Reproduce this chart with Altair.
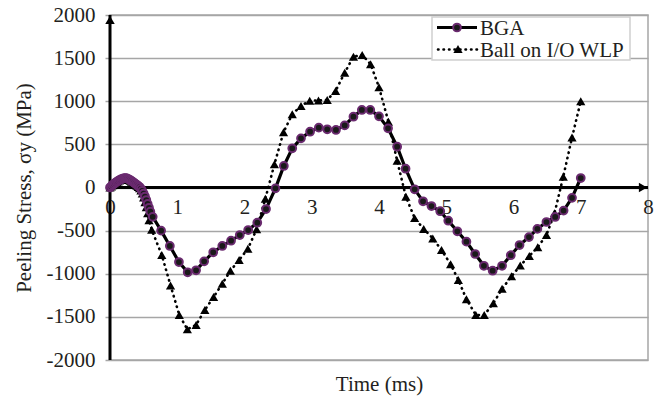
import altair as alt
import pandas as pd

# ---------------- data ----------------
bga_t = [0, 0.02, 0.04, 0.06, 0.08, 0.10, 0.12, 0.14, 0.16, 0.18, 0.20, 0.22, 0.24, 0.26,
         0.28, 0.30, 0.32, 0.34, 0.36, 0.38, 0.40, 0.42, 0.44, 0.46, 0.48, 0.50, 0.52,
         0.54, 0.56, 0.58, 0.60,
         0.635, 0.76, 0.89, 1.025, 1.155, 1.28, 1.40, 1.535, 1.67, 1.80, 1.93, 2.055, 2.19,
         2.32, 2.46, 2.585, 2.71, 2.84, 2.975, 3.105, 3.23, 3.36, 3.49, 3.62, 3.745, 3.87,
         4.0, 4.135, 4.27, 4.395, 4.53, 4.655, 4.78, 4.91, 5.03, 5.165, 5.3, 5.43, 5.56,
         5.69, 5.83, 5.96, 6.09, 6.23, 6.355, 6.49, 6.62, 6.745, 6.87, 7.0]
bga_v = [0, 15, 30, 43, 55, 66, 76, 85, 93, 100, 105, 108, 108, 103,
         95, 86, 76, 65, 53, 42, 30, 18, 5, -15, -40, -70, -105,
         -145, -190, -235, -280,
         -340, -500, -678, -864, -983, -960, -856, -751, -678, -617, -551, -493, -408,
         -250, -10, 250, 454, 570, 647, 694, 675, 667, 720, 821, 899, 899,
         825, 686, 473, 218, -21, -160, -215, -275, -385, -508, -628, -771, -908,
         -965, -908, -785, -667, -575, -480, -400, -342, -268, -120, 110]

wlp_t = [0, 0.02, 0.04, 0.06, 0.08, 0.10, 0.12, 0.14, 0.16, 0.18, 0.20, 0.22, 0.24, 0.26,
         0.28, 0.30, 0.32, 0.34, 0.36, 0.38, 0.40, 0.42, 0.44, 0.46, 0.48, 0.50, 0.52,
         0.54, 0.56, 0.58,
         0.62, 0.77, 0.90, 1.03, 1.15, 1.28, 1.41, 1.54, 1.67, 1.79, 1.92, 2.05, 2.18,
         2.31, 2.445, 2.58, 2.71, 2.84, 2.97, 3.10, 3.23, 3.355, 3.49, 3.62, 3.75, 3.875,
         4.0, 4.14, 4.27, 4.40, 4.53, 4.665, 4.80, 4.93, 5.065, 5.18, 5.30, 5.44, 5.565,
         5.70, 5.83, 5.97, 6.10, 6.235, 6.36, 6.49, 6.61, 6.74, 6.87, 7.0]
wlp_v = [0, 12, 25, 38, 50, 60, 70, 80, 88, 95, 100, 102, 100, 95,
         88, 78, 68, 57, 45, 33, 20, 5, -10, -35, -70, -115, -170,
         -230, -300, -380,
         -490, -783, -1135, -1478, -1645, -1594, -1420, -1270, -1115, -966, -840, -711, -485,
         -130, 270, 640, 850, 945, 1006, 1010, 1015, 1120, 1331, 1517, 1536, 1430,
         1162, 763, 309, -107, -355, -480, -590, -725, -890, -1072, -1295, -1478, -1478,
         -1343, -1175, -1030, -905, -795, -692, -551, -299, 125, 580, 1000]

series_names = ["BGA", "Ball on I/O WLP"]
x_ticks = [0, 1, 2, 3, 4, 5, 6, 7, 8]
y_ticks = [-2000, -1500, -1000, -500, 0, 500, 1000, 1500, 2000]
x_title = "Time (ms)"
y_title = "Peeling Stress, σy (MPa)"

# ---------------- styling ----------------
FONT = "Liberation Serif"
TXT = "#231f20"
GRID = "#a6a6a6"
PURPLE = "#6a2a6f"
W, H = 538, 345

bga = pd.DataFrame({"t": bga_t, "v": bga_v})
wlp = pd.DataFrame({"t": wlp_t, "v": wlp_v})

xs = alt.Scale(domain=[x_ticks[0], x_ticks[-1]], nice=False, zero=False)
ys = alt.Scale(domain=[y_ticks[0], y_ticks[-1]], nice=False, zero=False)

x_axis = alt.Axis(values=x_ticks, offset=-H / 2, domain=False, ticks=False, grid=False,
                  labelPadding=9, labelFont=FONT, labelFontSize=21, labelColor=TXT,
                  labelFlush=False, labelOverlap=False, labelExpr="datum.value + ''",
                  title=x_title, titleFont=FONT, titleFontSize=21, titleFontWeight="normal",
                  titleColor=TXT, titleY=H / 2 + 30, titleBaseline="alphabetic")
y_axis = alt.Axis(values=y_ticks, domain=False, tickColor=GRID, tickSize=5, tickWidth=1.5,
                  grid=True, gridColor=GRID, gridWidth=1.5,
                  labelPadding=10, labelFont=FONT, labelFontSize=21, labelColor=TXT,
                  labelFlush=False, labelOverlap=False, labelExpr="datum.value + ''",
                  title=y_title, titleFont=FONT, titleFontSize=21, titleFontWeight="normal",
                  titleColor=TXT, titleX=-86, titleY=H / 2, titleAngle=-90,
                  titleAlign="center", titleBaseline="middle")

X = alt.X("t:Q", scale=xs, axis=x_axis)
Y = alt.Y("v:Q", scale=ys, axis=y_axis)

# black axis lines through the origin
hline = alt.Chart(pd.DataFrame({"t": [x_ticks[0]], "t2": [x_ticks[-1]], "v": [0]})).mark_rule(
    color="black", strokeWidth=3).encode(x=X, x2="t2:Q", y=Y)
vline = alt.Chart(pd.DataFrame({"t": [0], "v": [y_ticks[0]], "v2": [y_ticks[-1]]})).mark_rule(
    color="black", strokeWidth=3).encode(x=X, y=Y, y2="v2:Q")
arrow_up = alt.Chart(pd.DataFrame({"t": [0], "v": [y_ticks[-1]]})).mark_point(
    shape="triangle-up", filled=True, color="black", size=90, opacity=1, yOffset=5).encode(x=X, y=Y)
arrow_right = alt.Chart(pd.DataFrame({"t": [x_ticks[-1]], "v": [0]})).mark_point(
    shape="triangle-right", filled=True, color="black", size=90, opacity=1, xOffset=-5).encode(x=X, y=Y)

wlp_line = alt.Chart(wlp).mark_line(color="black", strokeWidth=2.6, strokeDash=[0.5, 5],
                                    strokeCap="round").encode(x=X, y=Y)
wlp_pts = alt.Chart(wlp).mark_point(shape="triangle-up", filled=True, color="black",
                                    size=85, opacity=1).encode(x=X, y=Y)
bga_line = alt.Chart(bga).mark_line(color="black", strokeWidth=3.2).encode(x=X, y=Y)
bga_pts = alt.Chart(bga).mark_point(shape="circle", filled=True, fill="#1a1a1a", stroke=PURPLE,
                                    strokeWidth=2, size=60, opacity=1).encode(x=X, y=Y)

# legend (drawn by hand)
one = pd.DataFrame({"k": [0]})
leg_box = alt.Chart(one).mark_rect(fill="white", stroke="#d0d0d0", strokeWidth=1.5).encode(
    x=alt.value(322), x2=alt.value(520), y=alt.value(2), y2=alt.value(45))
leg1_line = alt.Chart(one).mark_rule(color="black", strokeWidth=3.2).encode(
    x=alt.value(327), x2=alt.value(367), y=alt.value(12.5))
leg1_pt = alt.Chart(one).mark_point(shape="circle", filled=True, fill="#1a1a1a", stroke=PURPLE,
                                    strokeWidth=2, size=60, opacity=1).encode(
    x=alt.value(347), y=alt.value(12.5))
leg1_txt = alt.Chart(pd.DataFrame({"label": [series_names[0]]})).mark_text(
    font=FONT, fontSize=21, color=TXT, align="left", baseline="middle").encode(
    x=alt.value(370), y=alt.value(13.5), text="label:N")
leg2_line = alt.Chart(one).mark_rule(color="black", strokeWidth=2.6, strokeDash=[0.5, 5],
                                     strokeCap="round").encode(
    x=alt.value(328), x2=alt.value(367), y=alt.value(34.5))
leg2_pt = alt.Chart(one).mark_point(shape="triangle-up", filled=True, color="black",
                                    size=85, opacity=1).encode(x=alt.value(348), y=alt.value(34))
leg2_txt = alt.Chart(pd.DataFrame({"label": [series_names[1]]})).mark_text(
    font=FONT, fontSize=21, color=TXT, align="left", baseline="middle").encode(
    x=alt.value(370), y=alt.value(35.5), text="label:N")

chart = alt.layer(
    hline, vline, arrow_up, arrow_right,
    wlp_line, wlp_pts, bga_line, bga_pts,
    leg_box, leg1_line, leg1_pt, leg1_txt, leg2_line, leg2_pt, leg2_txt,
).properties(
    width=W, height=H,
    autosize=alt.AutoSizeParams(type="none"),
    padding={"left": 110, "top": 15, "right": 9, "bottom": 38},
    background="white",
).configure_view(stroke=GRID, strokeWidth=1.5)

chart.save("out.html", embed_options={"renderer": "svg", "actions": False})
